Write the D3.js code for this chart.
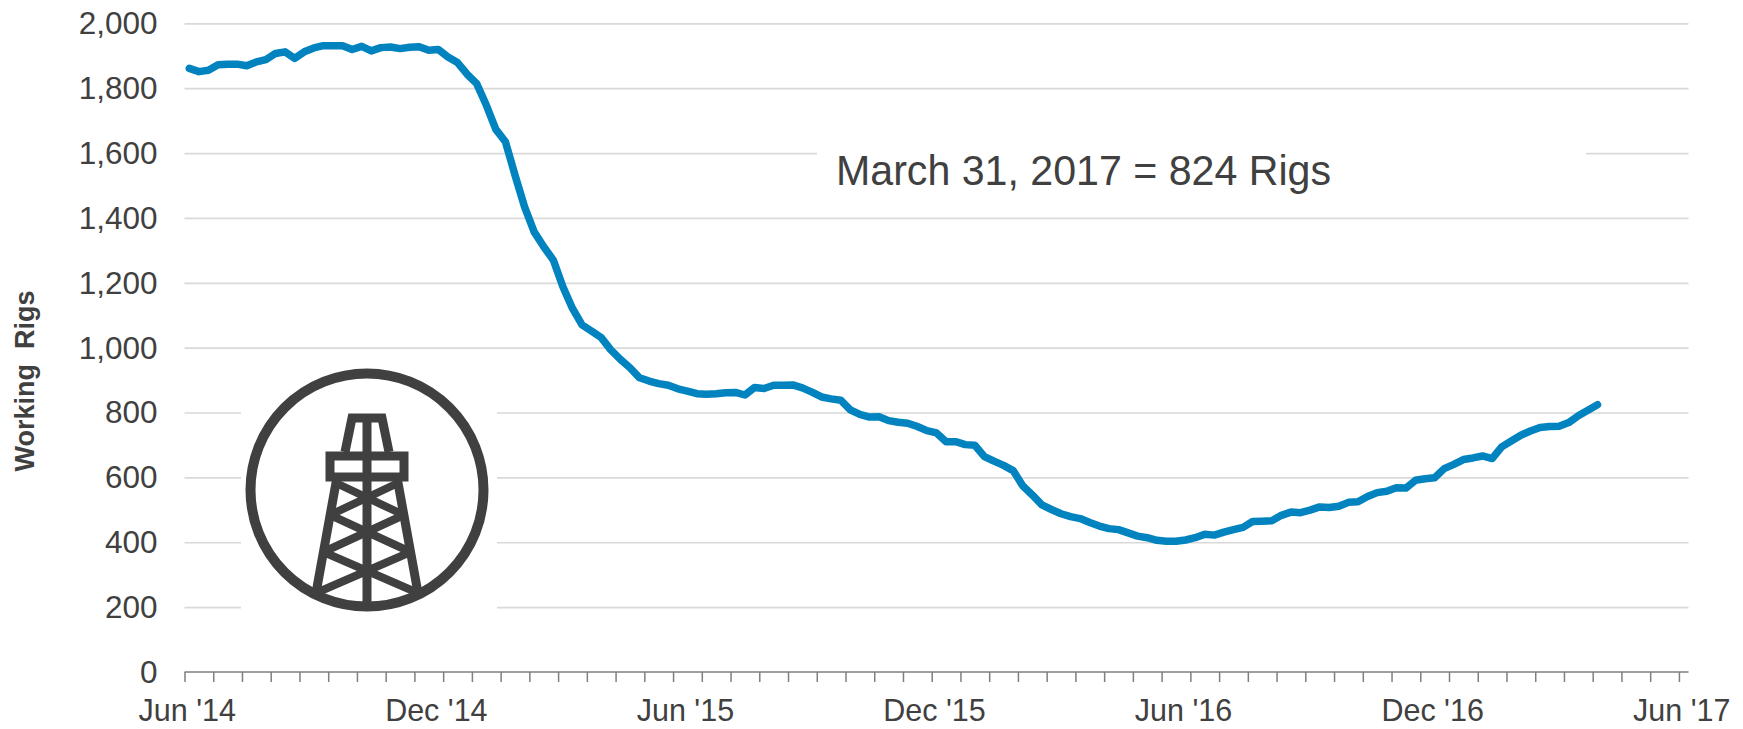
<!DOCTYPE html>
<html>
<head>
<meta charset="utf-8">
<script src="https://cdn.jsdelivr.net/npm/d3@7/dist/d3.min.js"></script>
<style>
html,body{margin:0;padding:0;background:#fff;}
svg{display:block;}
text{font-family:"Liberation Sans",Arial,sans-serif;}
</style>
</head>
<body>
<svg id="chart" width="1743" height="729"></svg>
<script>
const rigCounts = [
1861,1851,1855,1872,1874,1874,1869,1881,1888,1907,1912,1892,1912,1924,1931,1931,1931,1919,1929,1915,
1925,1927,1922,1926,1928,1917,1919,1896,1879,1843,1814,1748,1673,1635,1532,1434,1357,1311,1270,1188,
1121,1070,1051,1031,993,964,938,907,897,889,884,873,866,858,856,858,861,862,854,877,
874,884,884,885,876,863,848,842,838,808,794,786,787,775,770,767,757,744,737,710,
710,701,699,664,650,637,621,574,546,515,501,488,479,473,461,450,442,439,429,419,
414,406,403,403,407,414,425,422,431,439,446,464,465,466,483,493,491,499,509,507,
511,523,525,541,553,557,568,567,591,596,599,627,640,655,660,666,658,694,712,730,
743,754,757,758,769,790,807,824];
const weekCount = 157;
const xLabels = ["Jun '14","Dec '14","Jun '15","Dec '15","Jun '16","Dec '16","Jun '17"];
const xLabelWeeks = [0,26,52,78,104,130,156];
const yTicks = [0,200,400,600,800,1000,1200,1400,1600,1800,2000];
const tickEvery = 3;
const yTitle = "Working  Rigs";
const note = "March 31, 2017 = 824 Rigs";

const colors = {line:"#0083BF", grid:"#D9D9D9", axis:"#7F7F7F", text:"#404040", icon:"#404040"};
const plot = {left:184.5, right:1688.5, top:23.3, bottom:672};

const svg = d3.select("#chart");
const x = d3.scaleLinear().domain([0,weekCount]).range([plot.left,plot.right]);
const y = d3.scaleLinear().domain([0,2000]).range([plot.bottom,plot.top]);

// gridlines
const grid = svg.append("g").attr("transform",`translate(${plot.left},0)`)
  .call(d3.axisRight(y).tickValues(yTicks.filter(d=>d>0)).tickSize(plot.right-plot.left).tickFormat(""));
grid.select(".domain").remove();
grid.selectAll("line").attr("stroke",colors.grid).attr("stroke-width",1.7);

// masks behind note and icon
svg.append("rect").attr("x",817).attr("y",y(1600)-6).attr("width",769).attr("height",12).attr("fill","#fff");
svg.append("rect").attr("x",241).attr("y",y(800)-6).attr("width",256).attr("height",y(200)-y(800)+12).attr("fill","#fff");

// y labels
const yAxis = svg.append("g").attr("transform",`translate(${plot.left},0)`)
  .call(d3.axisLeft(y).tickValues(yTicks).tickSize(0).tickPadding(27).tickFormat(d3.format(",")));
yAxis.select(".domain").remove();
yAxis.selectAll("text").attr("fill",colors.text).style("font-size","31.5px").attr("dy","0.33em");

// x axis
const xAxis = svg.append("g").attr("transform",`translate(0,${plot.bottom})`)
  .call(d3.axisBottom(x).tickValues(d3.range(0,weekCount,tickEvery)).tickSize(10).tickSizeOuter(0).tickFormat(""));
xAxis.select(".domain").attr("stroke",colors.axis).attr("stroke-width",1.7).attr("d",`M${plot.left},0H${plot.right}`);
xAxis.selectAll("line").attr("stroke",colors.axis).attr("stroke-width",1.5);

svg.append("g").selectAll("text").data(xLabels).join("text")
  .attr("x",(d,i)=>x(xLabelWeeks[i]+0.5)-2).attr("y",721)
  .attr("text-anchor","middle").attr("fill",colors.text).style("font-size","30.5px").text(d=>d);

// titles
svg.append("text").attr("transform","translate(34,381) rotate(-90)")
  .attr("text-anchor","middle").attr("fill",colors.text)
  .style("font-size","27px").style("font-weight","bold").style("white-space","pre").text(yTitle);
svg.append("text").attr("x",836).attr("y",185)
  .attr("fill",colors.text)
  .attr("textLength",495).attr("lengthAdjust","spacingAndGlyphs")
  .style("font-size","42px").style("font-family",'"Liberation Sans Narrow","Liberation Sans",sans-serif').text(note);

// series
svg.append("path").datum(rigCounts)
  .attr("fill","none").attr("stroke",colors.line).attr("stroke-width",7.5)
  .attr("stroke-linejoin","round").attr("stroke-linecap","round")
  .attr("d",d3.line().x((d,i)=>x(i+0.5)).y(d=>y(d)));

// rig icon (decoration)
const icon = svg.append("g").attr("transform","translate(367,490)")
  .attr("fill","none").attr("stroke",colors.icon).attr("stroke-width",9);
icon.append("circle").attr("r",116.5).attr("stroke-width",10);
const leg = t => 30.5 + (t+10)*(51-30.5)/(103+10);
const braces = [[-7,25],[25,-7],[25,62],[62,25],[62,103],[103,62]];
icon.append("path").attr("d","M0,-74V116");
icon.append("path").attr("d","M-22,-38L-15,-72H15L22,-38");
icon.append("rect").attr("x",-37).attr("y",-34).attr("width",74).attr("height",21);
icon.append("path").attr("d",`M${-leg(-13)},-13L${-leg(106)},106M${leg(-13)},-13L${leg(106)},106`);
icon.append("path").attr("stroke-width",8).attr("d",braces.map(([a,b])=>`M${-leg(a)},${a}L${leg(b)},${b}`).join(""));
</script>
</body>
</html>
